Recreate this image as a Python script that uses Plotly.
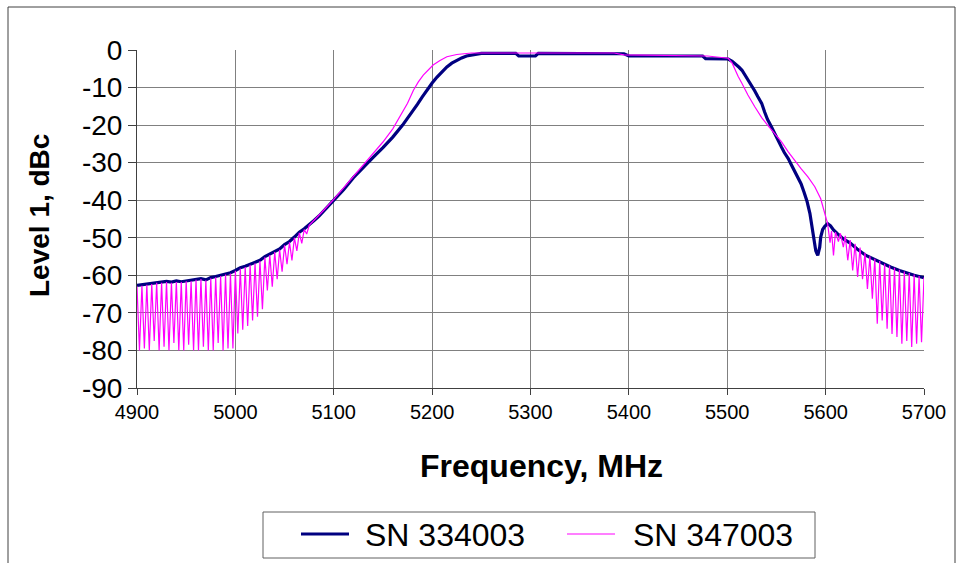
import plotly.graph_objects as go

# ---------------- data ----------------
series_names = ["SN 334003", "SN 347003"]

freq_sn334003 = [
    4900, 4905, 4910, 4915, 4920, 4925, 4930, 4935, 4940, 4945, 4950, 4955,
    4960, 4965, 4970, 4975, 4980, 4985, 4990, 4995, 5000, 5005, 5010, 5015,
    5020, 5025, 5030, 5035, 5040, 5045, 5050, 5055, 5060, 5065, 5070, 5075,
    5080, 5085, 5090, 5095, 5100, 5110, 5120, 5130, 5140, 5150, 5160, 5170,
    5180, 5185, 5190, 5195, 5200, 5205, 5210, 5215, 5220, 5225, 5230, 5235,
    5240, 5250, 5285, 5288, 5305, 5308, 5395, 5400, 5475, 5478, 5500,
    5501, 5505, 5508, 5512, 5515, 5518, 5521, 5525, 5528, 5531, 5535, 5538,
    5541, 5545, 5548, 5552, 5555, 5558, 5562, 5565, 5568, 5572, 5575, 5578,
    5581, 5584, 5586, 5588, 5590, 5592, 5594, 5595, 5597, 5599, 5602, 5605,
    5608, 5612, 5618, 5625, 5632, 5641, 5650, 5658, 5666, 5675, 5683, 5690,
    5695, 5700,
]
level_sn334003 = [
    -62.7, -62.5, -62.3, -62.0, -61.9, -61.7, -61.6, -61.8, -61.5, -61.7, -61.5, -61.4,
    -61.0, -60.9, -61.2, -60.6, -60.3, -60.0, -59.6, -59.3, -58.7, -58.0, -57.6, -57.0,
    -56.6, -56.0, -55.0, -54.4, -53.6, -53.0, -51.8, -51.0, -49.8, -48.5, -47.6, -46.6,
    -45.4, -44.2, -42.8, -41.5, -40.0, -37.2, -34.0, -31.2, -28.6, -26.0, -23.2, -20.0,
    -16.5, -14.5, -12.5, -10.5, -8.8, -7.2, -5.8, -4.5, -3.5, -2.7, -2.1, -1.6,
    -1.3, -0.9, -0.9, -1.6, -1.6, -0.9, -1.0, -1.6, -1.6, -2.3, -2.4,
    -2.4, -3.0, -3.6, -4.6, -5.4, -6.6, -7.8, -9.5, -10.9, -12.4, -14.2, -16.5,
    -18.5, -20.5, -22.2, -24.2, -25.8, -27.3, -28.9, -30.5, -32.0, -33.8, -35.6, -37.8,
    -40.2, -43.5, -46.5, -50.5, -53.5, -54.7, -52.5, -49.8, -47.8, -47.0, -46.2, -46.8,
    -47.9, -48.9, -50.3, -51.4, -53.0, -54.7, -55.8, -56.9, -57.8, -58.7, -59.5, -60.0,
    -60.3, -60.6,
]

freq_sn347003 = [
    4900, 4902.5, 4905, 4907.5, 4910, 4912.5, 4915, 4917.5, 4920, 4922.5,
    4925, 4927.5, 4930, 4932.5, 4935, 4937.5, 4940, 4942.5, 4945, 4947.5,
    4950, 4952.5, 4955, 4957.5, 4960, 4962.5, 4965, 4967.5, 4970, 4972.5,
    4975, 4977.5, 4980, 4982.5, 4985, 4987.5, 4990, 4992.5, 4995, 4997.5,
    5000, 5002.5, 5005, 5007.5, 5010, 5012.5, 5015, 5017.5, 5020, 5022.5,
    5025, 5027.5, 5030, 5032.5, 5035, 5037.5, 5040, 5042.5, 5045, 5047.5,
    5050, 5052.5, 5055, 5057.5, 5060, 5062.5, 5065, 5067.5, 5070, 5072.5,
    5075, 5080, 5090, 5100, 5110, 5120, 5130, 5140, 5150, 5160, 5167, 5175,
    5181, 5186, 5191, 5196, 5201, 5208, 5215, 5225, 5240, 5385, 5395, 5480,
    5500, 5501, 5505, 5508, 5511, 5515, 5521, 5528, 5535, 5541, 5548, 5555,
    5562, 5568, 5575, 5582, 5589, 5595, 5599, 5602,
    5604.5, 5606, 5608, 5610, 5613, 5615, 5618, 5620, 5622.5, 5625, 5627.5,
    5630, 5632.5, 5635, 5637.5, 5640, 5642.5, 5645, 5647.5, 5650, 5652.5,
    5655, 5657.5, 5660, 5662.5, 5665, 5667.5, 5670, 5672.5, 5675, 5677.5,
    5680, 5682.5, 5685, 5687.5, 5690, 5692.5, 5695, 5697.5, 5700,
]
level_sn347003 = [
    -63.0, -80.0, -62.8, -79.5, -62.5, -80.0, -62.3, -77.5, -62.0, -80.0,
    -62.0, -79.0, -61.8, -80.0, -62.0, -78.0, -61.8, -80.0, -61.8, -80.0,
    -61.6, -78.5, -61.6, -80.0, -61.2, -80.0, -61.0, -79.0, -61.3, -80.0,
    -60.8, -80.0, -60.5, -78.0, -60.2, -80.0, -59.8, -79.5, -59.5, -79.5,
    -58.8, -75.5, -58.2, -74.5, -57.8, -73.5, -57.2, -72.0, -56.8, -71.0,
    -56.2, -69.0, -55.2, -64.0, -54.6, -63.0, -53.8, -61.0, -53.2, -59.0,
    -52.0, -57.0, -51.2, -56.0, -50.0, -53.5, -48.7, -51.5, -47.8, -49.0,
    -46.7, -45.4, -42.6, -39.8, -36.8, -33.6, -30.5, -27.5, -24.5, -21.0, -17.8, -14.2,
    -10.7, -8.5, -6.7, -5.2, -4.0, -2.8, -1.8, -1.2, -0.8, -0.8, -1.3, -1.6,
    -2.0, -2.2, -3.5, -5.3, -7.0, -8.9, -12.0, -15.1, -18.0, -20.0, -22.2, -24.4,
    -27.1, -29.3, -31.6, -33.8, -36.4, -39.6, -43.6, -46.2,
    -51.3, -48.2, -54.7, -48.5, -51.0, -48.8, -52.5, -49.5, -56.0, -50.6, -58.7,
    -51.6, -60.4, -52.6, -61.0, -54.0, -63.6, -54.9, -66.2, -55.6, -72.9,
    -56.2, -72.0, -56.9, -74.2, -57.4, -75.6, -58.0, -76.4, -58.5, -78.2,
    -59.0, -77.5, -59.4, -79.1, -59.8, -78.2, -60.2, -77.8, -60.6,
]

x_ticks = [4900, 5000, 5100, 5200, 5300, 5400, 5500, 5600, 5700]
x_tick_labels = ["4900", "5000", "5100", "5200", "5300", "5400", "5500", "5600", "5700"]
y_ticks = [0, -10, -20, -30, -40, -50, -60, -70, -80, -90]
y_tick_labels = ["0", "-10", "-20", "-30", "-40", "-50", "-60", "-70", "-80", "-90"]

colors = ["#000080", "#FF00FF"]

# ---------------- figure ----------------
W, H = 964, 563
ML, MR, MT, MB = 137, 40, 50, 175
PW, PH = W - ML - MR, H - MT - MB


def px(x):
    return (x - ML) / PW


def py(y):
    return (H - MB - y) / PH


FONT = "Arial, Liberation Sans, sans-serif"

fig = go.Figure()
fig.add_trace(go.Scatter(x=freq_sn334003, y=level_sn334003, mode="lines",
                         name=series_names[0], line=dict(color=colors[0], width=3.2),
                         showlegend=False))
fig.add_trace(go.Scatter(x=freq_sn347003, y=level_sn347003, mode="lines",
                         name=series_names[1], line=dict(color=colors[1], width=1.2),
                         showlegend=False))

fig.update_layout(
    width=W, height=H,
    margin=dict(l=ML, r=MR, t=MT, b=MB),
    paper_bgcolor="white", plot_bgcolor="white",
    font=dict(family=FONT, color="black"),
    xaxis=dict(range=[4900, 5700], tickvals=x_ticks, ticktext=x_tick_labels,
               showgrid=True, gridcolor="#808080", gridwidth=1,
               showline=True, linecolor="#404040", linewidth=1,
               ticks="outside", ticklen=6, tickcolor="#404040",
               tickfont=dict(size=20, family=FONT), zeroline=False),
    yaxis=dict(range=[-90, 0], tickvals=y_ticks, ticktext=y_tick_labels,
               showgrid=True, gridcolor="#808080", gridwidth=1,
               showline=True, linecolor="#404040", linewidth=1,
               ticks="outside", ticklen=8, tickcolor="#404040",
               tickfont=dict(size=28, family=FONT), zeroline=False),
)

shapes = []
# outer chart frame
shapes.append(dict(type="rect", xref="paper", yref="paper",
                   x0=px(8), x1=px(955), y0=py(575), y1=py(7),
                   line=dict(color="#404040", width=1), layer="below"))
# legend box
shapes.append(dict(type="rect", xref="paper", yref="paper",
                   x0=px(263), x1=px(815), y0=py(558), y1=py(512),
                   line=dict(color="#606060", width=1)))
# legend samples
shapes.append(dict(type="line", xref="paper", yref="paper",
                   x0=px(301), x1=px(349), y0=py(534), y1=py(534),
                   line=dict(color=colors[0], width=3.2)))
shapes.append(dict(type="line", xref="paper", yref="paper",
                   x0=px(567), x1=px(615), y0=py(534), y1=py(534),
                   line=dict(color=colors[1], width=1.2)))
fig.update_layout(shapes=shapes)

annotations = [
    dict(text="Frequency, MHz", xref="paper", yref="paper", x=px(541), y=py(466),
         xanchor="center", yanchor="middle", showarrow=False,
         font=dict(size=32, family=FONT, color="black", weight="bold")),
    dict(text="Level 1, dBc", xref="paper", yref="paper", x=px(40), y=py(216),
         xanchor="center", yanchor="middle", showarrow=False, textangle=-90,
         font=dict(size=28, family=FONT, color="black", weight="bold")),
    dict(text=series_names[0], xref="paper", yref="paper", x=px(363), y=py(535),
         xanchor="left", yanchor="middle", showarrow=False,
         font=dict(size=32, family=FONT, color="black")),
    dict(text=series_names[1], xref="paper", yref="paper", x=px(631), y=py(535),
         xanchor="left", yanchor="middle", showarrow=False,
         font=dict(size=32, family=FONT, color="black")),
]
fig.update_layout(annotations=annotations)

fig.write_html("out.html")
